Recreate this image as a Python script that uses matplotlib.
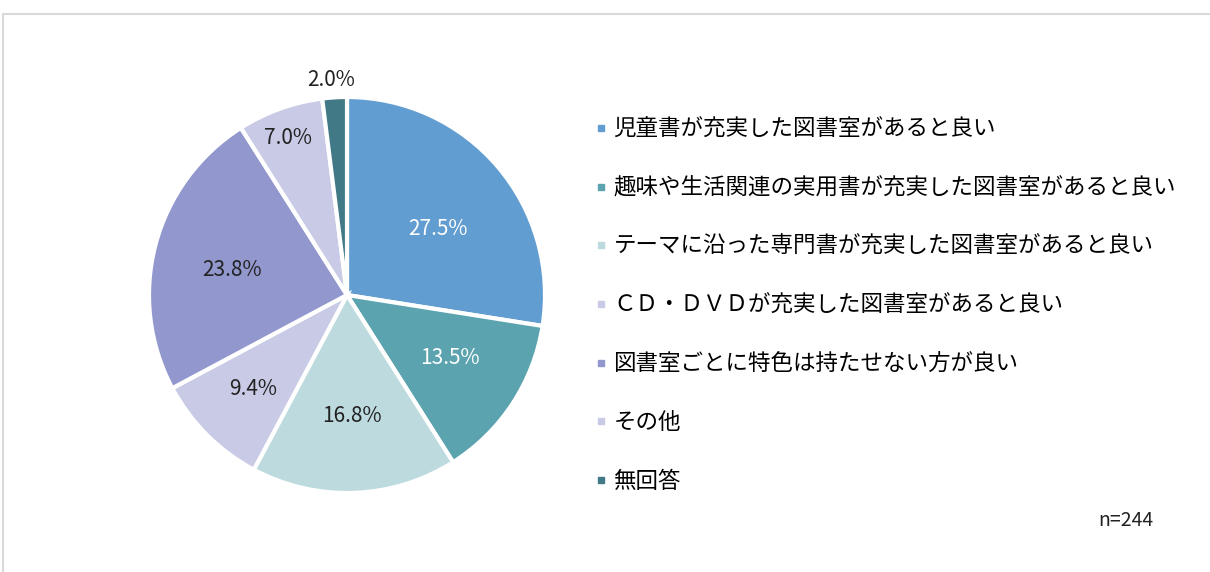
import numpy as np
import matplotlib.pyplot as plt
from matplotlib.patches import Rectangle
from matplotlib.lines import Line2D

plt.rcParams['font.family'] = ['Noto Sans CJK JP', 'DejaVu Sans']

# Data
labels = [
    "児童書が充実した図書室があると良い",
    "趣味や生活関連の実用書が充実した図書室があると良い",
    "テーマに沿った専門書が充実した図書室があると良い",
    "ＣＤ・ＤＶＤが充実した図書室があると良い",
    "図書室ごとに特色は持たせない方が良い",
    "その他",
    "無回答",
]
values = [27.5, 13.5, 16.8, 9.4, 23.8, 7.0, 2.0]
n_total = 244

colors = ["#619DD0", "#5BA3AE", "#BDDADE", "#C9CAE6", "#9297CD", "#C9CAE6", "#417A86"]
label_colors = ["white", "white", "#222222", "#222222", "#222222", "#222222", "#222222"]
# label placement (fraction of radius, angle tweak in degrees)
label_radius = [0.565, 0.61, 0.61, 0.67, 0.595, 0.845, 1.09]
label_shift = [-4.5, 1.8, 0, 0, 2.4, 0.8, 0.7]

W, H = 1210, 572
fig = plt.figure(figsize=(W / 100, H / 100), dpi=100)

# light frame around the chart area
fig.add_artist(Rectangle((3 / W, -0.05), 1.1, (H - 14) / H + 0.05,
                         transform=fig.transFigure, fill=False,
                         edgecolor="#D9D9D9", linewidth=1.5))

cx, cy, r = 347, 295, 198
ax = fig.add_axes([(cx - r) / W, (H - cy - r) / H, 2 * r / W, 2 * r / H])
wedges, _ = ax.pie(values, colors=colors, startangle=90, counterclock=False,
                   wedgeprops=dict(edgecolor="white", linewidth=3))
ax.set_xlim(-1, 1)
ax.set_ylim(-1, 1)

for w, v, c, d, s in zip(wedges, values, label_colors, label_radius, label_shift):
    ang = np.deg2rad((w.theta1 + w.theta2) / 2 + s)
    ax.text(d * np.cos(ang), d * np.sin(ang), f"{v:.1f}%", ha="center", va="center",
            fontsize=15, color=c)

handles = [Line2D([], [], marker="s", linestyle="", markersize=5,
                  markerfacecolor=c, markeredgecolor=c) for c in colors]
fig.legend(handles, labels, loc="upper left", bbox_to_anchor=(583 / W, 1 - 107 / H),
           frameon=False, fontsize=16.2, handlelength=0.6, handletextpad=0.25,
           labelspacing=1.58, borderpad=0)

fig.text(1153 / W, 1 - 521 / H, f"n={n_total}", ha="right", va="center", fontsize=14,
         color="#222222")

fig.savefig("out.png", dpi=100)
